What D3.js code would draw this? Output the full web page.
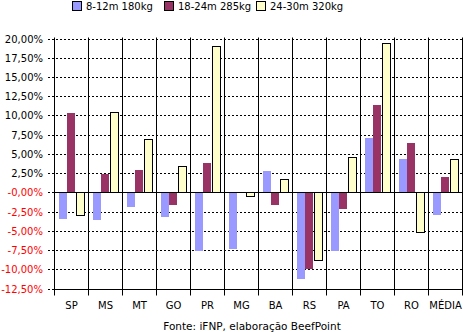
<!DOCTYPE html>
<html>
<head>
<meta charset="utf-8">
<script src="https://cdn.jsdelivr.net/npm/d3@7"></script>
<style>
  body { margin: 0; background: #fff; }
  svg { display: block; }
</style>
</head>
<body>
<div id="plot"></div>
<script>
// data
var categories = ["SP", "MS", "MT", "GO", "PR", "MG", "BA", "RS", "PA", "TO", "RO", "MÉDIA"];
var seriesNames = ["8-12m 180kg", "18-24m 285kg", "24-30m 320kg"];
var s1 = [-3.5, -3.6, -1.9, -3.3, -7.7, -7.4, 2.8, -11.3, -7.7, 7.1, 4.3, -2.95];
var s2 = [10.3, 2.4, 2.9, -1.7, 3.8, 0.0, -1.7, -10.0, -2.2, 11.35, 6.4, 2.0];
var s3 = [-3.0, 10.4, 6.9, 3.4, 19.0, -0.5, 1.7, -8.85, 4.55, 19.4, -5.2, 4.3];
var yTicks = [20, 17.5, 15, 12.5, 10, 7.5, 5, 2.5, 0, -2.5, -5, -7.5, -10, -12.5];
var colors = ["#9999ff", "#993366", "#ffffcc"];

var svg = d3.select("div#plot")
      .append("svg")
      .attr("width", 463)
      .attr("height", 332);

var font = "'DejaVu Sans', Verdana, sans-serif";

var x = d3.scaleBand().domain(categories).range([54.5, 462.5]);
var xs = d3.scaleBand().domain(d3.range(3)).range([4.5, 29.5]);
var y = d3.scaleLinear().domain([-12.5, 20]).range([288.5, 38.5]);

// dotted gridlines
svg.selectAll(".grid")
  .data(yTicks.filter(function(d) { return d !== 0 && d !== -12.5; }))
  .enter().append("line")
  .attr("class", "grid")
  .attr("x1", 48).attr("x2", 462)
  .attr("y1", function(d) { return Math.round(y(d)) + 0.5; })
  .attr("y2", function(d) { return Math.round(y(d)) + 0.5; })
  .attr("stroke", "#000")
  .attr("stroke-dasharray", "2,2");

// tick stubs for zero and bottom line
svg.selectAll(".stub")
  .data([0, -12.5])
  .enter().append("line")
  .attr("x1", 48).attr("x2", 54)
  .attr("y1", function(d) { return Math.round(y(d)) + 0.5; })
  .attr("y2", function(d) { return Math.round(y(d)) + 0.5; })
  .attr("stroke", "#000")
  .attr("stroke-dasharray", "2,2");

// category separators
svg.selectAll(".sep")
  .data(categories.concat(["end"]))
  .enter().append("line")
  .attr("class", "sep")
  .attr("x1", function(d, i) { return Math.round(54 + i * x.bandwidth()) + 0.5; })
  .attr("x2", function(d, i) { return Math.round(54 + i * x.bandwidth()) + 0.5; })
  .attr("y1", y(20) - 1)
  .attr("y2", y(-12.5) + 7)
  .attr("stroke", "#000");

// bars
var series = [s1, s2, s3];
series.forEach(function(vals, si) {
  svg.selectAll(".bar" + si)
    .data(vals)
    .enter().append("rect")
    .attr("class", "bar" + si)
    .attr("x", function(d, i) { return Math.round(x(categories[i]) + xs(si)) + (si == 2 ? 0.5 : 0); })
    .attr("y", function(d) { return Math.round(y(Math.max(0, d))) + (si == 2 ? 0.5 : 0); })
    .attr("width", Math.round(xs.bandwidth()))
    .attr("height", function(d) { return Math.max(0, Math.round(Math.abs(y(d) - y(0)))); })
    .attr("fill", colors[si])
    .attr("stroke", si == 2 ? "#000" : "none")
    .attr("stroke-width", 1);
});

// zero line and bottom axis
svg.selectAll(".axis")
  .data([0, -12.5])
  .enter().append("line")
  .attr("x1", 54).attr("x2", 463)
  .attr("y1", function(d) { return Math.round(y(d)) + 0.5; })
  .attr("y2", function(d) { return Math.round(y(d)) + 0.5; })
  .attr("stroke", "#000");

// y labels
svg.selectAll(".ylab")
  .data(yTicks)
  .enter().append("text")
  .attr("x", 43)
  .attr("y", function(d) { return y(d) + 4; })
  .attr("text-anchor", "end")
  .attr("font-family", font)
  .attr("font-size", 10)
  .attr("fill", function(d) { return d > 0 ? "#000" : "#ff0000"; })
  .text(function(d) { return (d <= 0 ? "-" : "") + Math.abs(d).toFixed(2).replace(".", ",") + "%"; });

// x labels
svg.selectAll(".xlab")
  .data(categories)
  .enter().append("text")
  .attr("x", function(d) { return x(d) + x.bandwidth() / 2; })
  .attr("y", 309)
  .attr("text-anchor", "middle")
  .attr("font-family", font)
  .attr("font-size", 10)
  .attr("fill", "#000")
  .text(function(d) { return d; });

// legend
var legX = [72, 164, 256];
var leg = svg.selectAll(".leg")
  .data(seriesNames)
  .enter().append("g")
  .attr("transform", function(d, i) { return "translate(" + legX[i] + ",0)"; });
leg.append("rect")
  .attr("x", 0.5).attr("y", 1.5)
  .attr("width", 9).attr("height", 9)
  .attr("fill", function(d, i) { return colors[i]; })
  .attr("stroke", "#000");
leg.append("text")
  .attr("x", 14).attr("y", 10)
  .attr("font-family", font)
  .attr("font-size", 10)
  .attr("fill", "#000")
  .text(function(d) { return d; });

// source
svg.append("text")
  .attr("x", 252).attr("y", 330)
  .attr("text-anchor", "middle")
  .attr("font-family", font)
  .attr("font-size", 10.5)
  .attr("fill", "#000")
  .text("Fonte: iFNP, elaboração BeefPoint");
</script>
</body>
</html>
